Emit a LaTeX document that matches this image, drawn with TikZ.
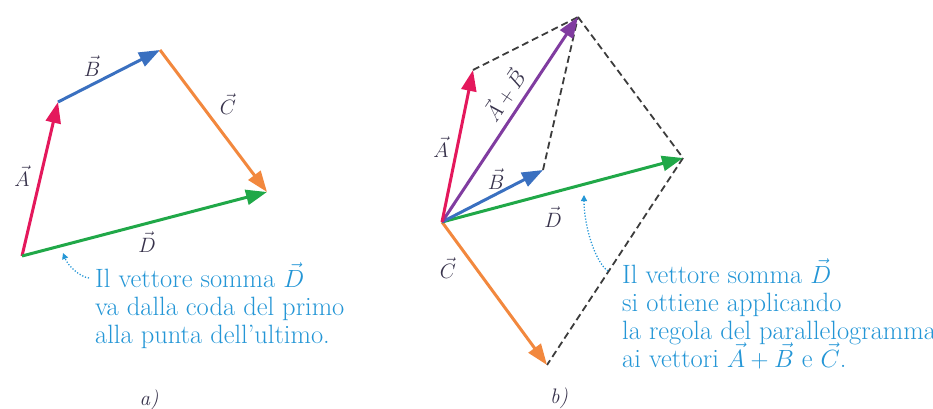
\documentclass[tikz,border=0pt]{standalone}
\usetikzlibrary{arrows.meta}
\definecolor{vA}{RGB}{228,24,92}
\definecolor{vB}{RGB}{58,112,192}
\definecolor{vC}{RGB}{242,136,62}
\definecolor{vD}{RGB}{32,168,72}
\definecolor{vS}{RGB}{128,60,160}
\definecolor{tb}{RGB}{36,150,214}
\definecolor{lab}{RGB}{55,50,75}
\definecolor{dsh}{RGB}{60,60,60}
\begin{document}
\begin{tikzpicture}[x=1pt,y=-1pt,
  vec/.style={line width=3pt,-{Triangle[length=21pt,width=15pt]}},
  guide/.style={dsh,line width=1.8pt,dash pattern=on 7pt off 4pt},
  pointer/.style={tb,line width=1.3pt,dash pattern=on 1.2pt off 1.8pt,-{Triangle[length=6pt,width=6pt]}},
  lbl/.style={lab,font=\fontsize{22}{26}\selectfont,inner sep=0pt},
  note/.style={tb,font=\fontsize{26.5}{28}\selectfont,anchor=base west,inner sep=0pt},
  captxt/.style={lab,font=\fontsize{21}{24}\selectfont\itshape,inner sep=0pt}]
\useasboundingbox (0,0) rectangle (933,409);
\clip (0,0) rectangle (933,409);
% ---------- panel a ----------
\coordinate (O1) at (22,256);
\coordinate (A1) at (58,102);
\coordinate (B1) at (160,50);
\coordinate (C1) at (267,192);
\draw[vec,vA] (O1) -- (A1);
\draw[vec,vB] (A1) -- (B1);
\draw[vec,vC] (B1) -- (C1);
\draw[vec,vD] (O1) -- (C1);
\node[lbl] (la1) at (22,176) {$\vec{A}$};
\node[lbl] (lb1) at (92,66) {$\vec{B}$};
\node[lbl] (lc1) at (228,104) {$\vec{C}$};
\node[lbl] (ld1) at (147,242) {$\vec{D}$};
\node[note] (n1a) at (95,287) {Il vettore somma $\vec{D}$};
\node[note] (n1b) at (95,315) {va dalla coda del primo};
\node[note] (n1c) at (95,343) {alla punta dell’ultimo.};
\coordinate (s1) at (89,278);
\coordinate (p1) at (63,253);
\draw[pointer] (s1) .. controls (80,277) and (68,266) .. (p1);
\node[captxt] (ca) at (149,400) {a)};
% ---------- panel b ----------
\coordinate (O2) at (442,222);
\coordinate (A2) at (473,70);
\coordinate (S2) at (578,17);
\coordinate (B2) at (543,170);
\coordinate (D2) at (683,158);
\coordinate (C2) at (547,365);
\draw[guide] (A2) -- (S2);
\draw[guide] (B2) -- (S2);
\draw[guide] (S2) -- (D2);
\draw[guide] (D2) -- (C2);
\draw[vec,vC] (O2) -- (C2);
\draw[vec,vD] (O2) -- (D2);
\draw[vec,vB] (O2) -- (B2);
\draw[vec,vS] (O2) -- (S2);
\draw[vec,vA] (O2) -- (A2);
\node[lbl] (la2) at (441,147) {$\vec{A}$};
\node[lbl,rotate=56] (ls2) at (504,95) {$\vec{A}+\vec{B}$};
\node[lbl] (lb2) at (496,179) {$\vec{B}$};
\node[lbl] (ld2) at (553,217) {$\vec{D}$};
\node[lbl] (lc2) at (448,268) {$\vec{C}$};
\node[note] (n2a) at (622,283) {Il vettore somma $\vec{D}$};
\node[note] (n2b) at (622,311) {si ottiene applicando};
\node[note] (n2c) at (622,339) {la regola del parallelogramma};
\node[note] (n2d) at (622,367) {ai vettori $\vec{A}+\vec{B}$ e $\vec{C}$.};
\coordinate (s2) at (608,271);
\coordinate (p2) at (584,195);
\draw[pointer] (s2) .. controls (595,262) and (584,226) .. (p2);
\node[captxt] (cb) at (559,398) {b)};
\end{tikzpicture}
\end{document}
